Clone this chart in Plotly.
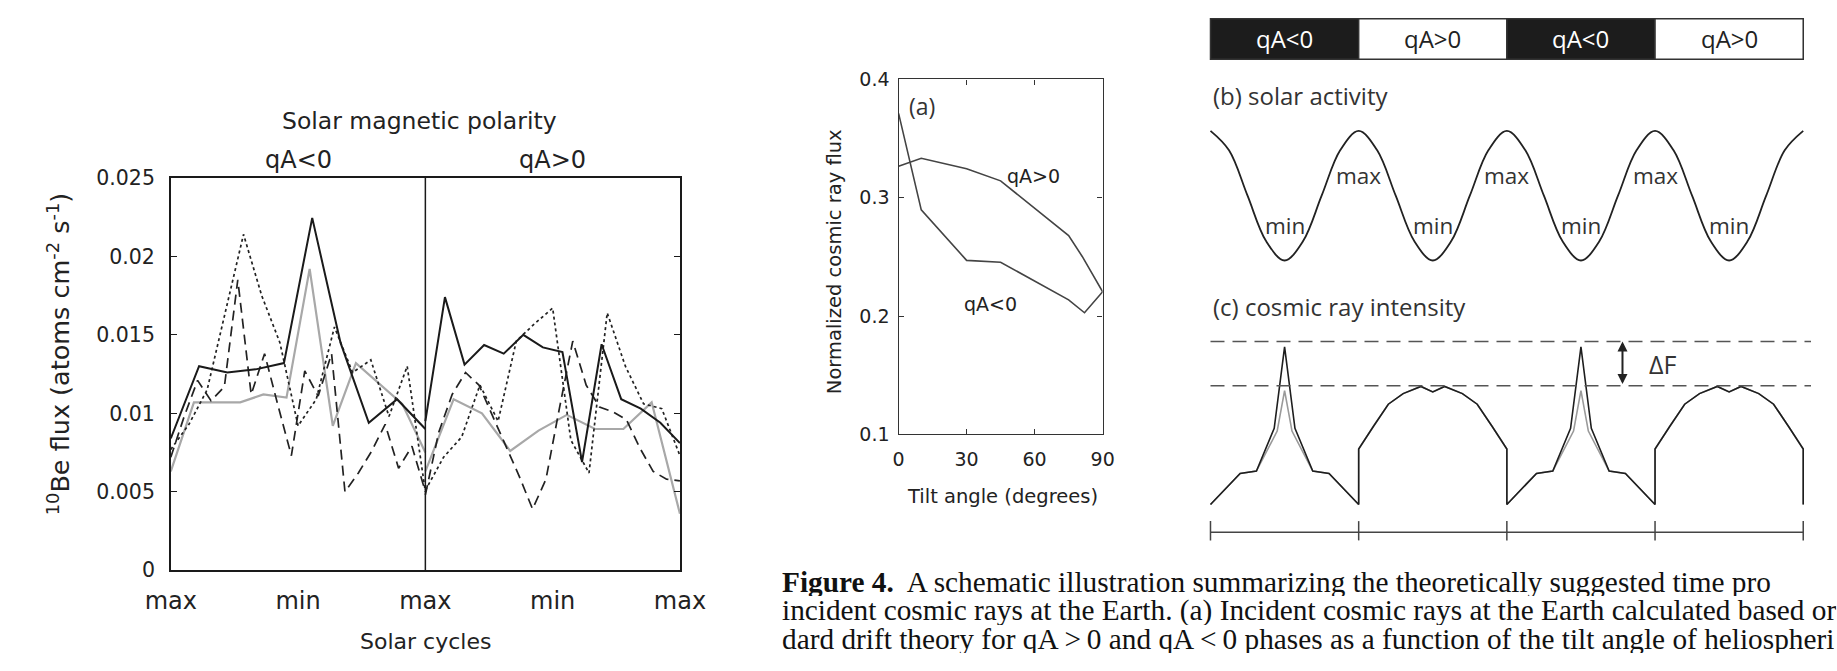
import plotly.graph_objects as go

W, H = 1837, 671
SANS = "DejaVu Sans"
HUMAN = "Open Sans"
SERIF = "Liberation Serif"

# ---------------- data: left panel (10Be flux vs solar cycle) ----------------
cycle_ticks = [0, 1, 2, 3, 4]
cycle_labels = ["max", "min", "max", "min", "max"]
flux_ticks = [0, 0.005, 0.01, 0.015, 0.02, 0.025]
flux_tick_text = ["0", "0.005", "0.01", "0.015", "0.02", "0.025"]
polarity_halves = ["qA<0", "qA>0"]

black_qaneg = [0.0084, 0.0130, 0.0126, 0.0128, 0.0132, 0.02245, 0.0145, 0.0094, 0.0109, 0.0090]
black_qapos = [0.0095, 0.0174, 0.0131, 0.01435, 0.0138, 0.0150, 0.0142, 0.0139, 0.0069, 0.0144,
               0.0109, 0.0103, 0.0094, 0.0081]
gray_qaneg = [0.0063, 0.0107, 0.0107, 0.0107, 0.0112, 0.0110, 0.0192, 0.0092, 0.0132, 0.0119, 0.0106, 0.0075]
gray_qapos = [0.0063, 0.0109, 0.0100, 0.0076, 0.0089, 0.0099, 0.0090, 0.0090, 0.0107, 0.0036]
dotted_qaneg = [0.0077, 0.0093, 0.0115, 0.0165, 0.0214, 0.0175, 0.0145, 0.0092, 0.0109, 0.0155,
                0.0126, 0.0134, 0.0098, 0.0130, 0.0050]
dotted_qapos = [0.0051, 0.0072, 0.0085, 0.0118, 0.0095, 0.0146, 0.0157, 0.0167, 0.0083, 0.0062,
                0.0164, 0.0130, 0.0106, 0.0103, 0.0073]
dashed_qaneg = [0.0072, 0.0098, 0.0121, 0.0108, 0.0117, 0.0185, 0.0112, 0.0138, 0.0105, 0.0073,
                0.0127, 0.0111, 0.0138, 0.0050, 0.0062, 0.0076, 0.0093, 0.0065, 0.0079, 0.0050]
dashed_qapos = [0.0048, 0.0088, 0.0112, 0.0126, 0.0118, 0.0099, 0.0079, 0.0060, 0.0039, 0.0058,
                0.0103, 0.0146, 0.0118, 0.0104, 0.0101, 0.0096, 0.0078, 0.0063, 0.0058, 0.0057]

# ---------------- data: middle panel (a) ----------------
tilt_ticks = [0, 30, 60, 90]
crflux_ticks = [0.1, 0.2, 0.3, 0.4]
crflux_tick_text = ["0.1", "0.2", "0.3", "0.4"]
tilt_qapos = [0, 10, 30, 45, 75, 81, 90]
crflux_qapos = [0.3266, 0.3334, 0.3246, 0.3143, 0.2680, 0.2504, 0.2205]
tilt_qaneg = [0, 10, 30, 45, 75, 82, 90]
crflux_qaneg = [0.3714, 0.2898, 0.2471, 0.2455, 0.2137, 0.2028, 0.2205]

# ---------------- data: right schematic (b), (c) ----------------
polarity_cycle = ["qA<0", "qA>0", "qA<0", "qA>0"]
activity_phase = [0, 0.125, 0.25, 0.375, 0.5, 0.625, 0.75, 0.875]
activity_level = [1.0, 0.85, 0.5, 0.15, 0.0, 0.15, 0.5, 0.85]
spike_phase = [0, 0.2, 0.31, 0.43, 0.5, 0.57, 0.69, 0.8, 1.0]
spike_black = [0, 0.19, 0.205, 0.467, 0.967, 0.467, 0.205, 0.19, 0]
spike_gray_phase = [0, 0.2, 0.31, 0.45, 0.5, 0.55, 0.69, 0.8, 1.0]
spike_gray = [0, 0.19, 0.205, 0.45, 0.698, 0.45, 0.205, 0.19, 0]
dome_phase = [0, 0, 0.1, 0.2, 0.3, 0.42, 0.5, 0.58, 0.7, 0.8, 0.9, 1.0, 1.0]
dome_level = [0, 0.34, 0.48, 0.615, 0.68, 0.724, 0.69, 0.724, 0.68, 0.615, 0.48, 0.34, 0]
level_spike_top = 1.0
level_dome_top = 0.728

caption = [
    "<b>Figure 4.</b>\u00a0 A schematic illustration summarizing the theoretically suggested time pro",
    "incident cosmic rays at the Earth. (a) Incident cosmic rays at the Earth calculated based or",
    "dard drift theory for qA\u2009>\u20090 and qA\u2009<\u20090 phases as a function of the tilt angle of heliospheri",
]

# ---------------- helpers ----------------
def fx(px):
    return px / W


def fy(py):
    return 1 - py / H


def phase(vals, start):
    n = len(vals)
    return [start + 2.0 * i / (n - 1) for i in range(n)]


fig = go.Figure()

# left panel traces
styles = [
    (gray_qaneg, gray_qapos, dict(color="#a8a8a8", width=2.2)),
    (dashed_qaneg, dashed_qapos, dict(color="#222", width=1.7, dash="10px,6px")),
    (dotted_qaneg, dotted_qapos, dict(color="#222", width=1.7, dash="3px,3px")),
    (black_qaneg, black_qapos, dict(color="#1a1a1a", width=2.0)),
]
for neg, pos, ln in styles:
    fig.add_trace(go.Scatter(x=phase(neg, 0), y=neg, mode="lines", line=ln, xaxis="x", yaxis="y",
                             hoverinfo="skip"))
    fig.add_trace(go.Scatter(x=phase(pos, 2), y=pos, mode="lines", line=ln, xaxis="x", yaxis="y",
                             hoverinfo="skip"))

# middle panel traces
for tx, ty in [(tilt_qapos, crflux_qapos), (tilt_qaneg, crflux_qaneg)]:
    fig.add_trace(go.Scatter(x=tx, y=ty, mode="lines", line=dict(color="#444", width=1.6),
                             xaxis="x2", yaxis="y2", hoverinfo="skip"))

# (b) solar activity
act_u, act_v = [], []
for k in range(4):
    act_u += [k + p for p in activity_phase]
    act_v += activity_level
act_u.append(4)
act_v.append(activity_level[0])
fig.add_trace(go.Scatter(x=act_u, y=act_v, mode="lines", line=dict(color="#222", width=1.8, shape="spline",
                         smoothing=1.0), xaxis="x3", yaxis="y3", hoverinfo="skip"))

# (c) cosmic ray intensity
def cycle_series(sp_phase, sp_vals):
    u, v = [], []
    for k in (0, 2):
        u += [k + p for p in sp_phase]
        v += sp_vals
        u += [k + 1 + p for p in dome_phase]
        v += dome_level
    return u, v

gu, gv = cycle_series(spike_gray_phase, spike_gray)
fig.add_trace(go.Scatter(x=gu, y=gv, mode="lines", line=dict(color="#9a9a9a", width=1.6),
                         xaxis="x4", yaxis="y4", hoverinfo="skip"))
bu, bv = cycle_series(spike_phase, spike_black)
fig.add_trace(go.Scatter(x=bu, y=bv, mode="lines", line=dict(color="#1e1e1e", width=1.6),
                         xaxis="x4", yaxis="y4", hoverinfo="skip"))

shapes = []
# divider between polarity halves in left panel
shapes.append(dict(type="line", xref="x", yref="y", x0=2, x1=2, y0=0, y1=0.025,
                   line=dict(color="#1a1a1a", width=1.5)))
# polarity bar
for k, lab in enumerate(polarity_cycle):
    dark = lab == "qA<0"
    shapes.append(dict(type="rect", xref="x3", yref="paper", x0=k, x1=k + 1, y0=fy(49), y1=fy(7),
                       fillcolor="#1c1c1c" if dark else "white", line=dict(color="#333", width=1.5),
                       layer="below"))
# reference dashed levels in (c)
for lev in (level_spike_top, level_dome_top):
    shapes.append(dict(type="line", xref="paper", yref="y4", x0=fx(1219), x1=1.0, y0=lev, y1=lev,
                       line=dict(color="#555", width=1.5, dash="14px,8px")))
# time axis below (c)
shapes.append(dict(type="line", xref="x3", yref="paper", x0=0, x1=4, y0=fy(539.5), y1=fy(539.5),
                   line=dict(color="#444", width=1.6)))
for k in range(5):
    shapes.append(dict(type="line", xref="x3", yref="paper", x0=k, x1=k, y0=fy(548), y1=fy(528),
                       line=dict(color="#444", width=1.5)))

ann = []

def text(t, x, y, size, family, color="#222", xanchor="center", yanchor="middle", angle=0,
         xref="paper", yref="paper", height=None):
    a = dict(text=t, x=x, y=y, xref=xref, yref=yref, showarrow=False, textangle=angle,
             xanchor=xanchor, yanchor=yanchor, font=dict(family=family, size=size, color=color))
    if height is not None:
        a["height"] = height
        a["valign"] = "middle"
    ann.append(a)

# left panel texts
text("Solar magnetic polarity", fx(405), fy(113), 23.5, SANS)
text(polarity_halves[0], 1, fy(153), 24, SANS, xref="x")
text(polarity_halves[1], 3, fy(153), 24, SANS, xref="x")
text("<sup>10</sup>Be flux (atoms cm<sup>-2</sup> s<sup>-1</sup>)", fx(34), fy(355), 25.5, SANS, angle=-90)
text("Solar cycles", fx(411), fy(653), 22, SANS)

# middle panel texts
text("Normalized cosmic ray flux", fx(832), fy(259), 19.5, SANS, angle=-90)
text("Tilt angle (degrees)", fx(1005), fy(502), 19.5, SANS)
text("(a)", fx(922), fy(97), 23, HUMAN, color="#333")
text("qA>0", 45 + 14.5, fy(170), 19, SANS, xref="x2")
text("qA<0", 45 - 4.5, fy(303), 19, SANS, xref="x2")

# right schematic texts
text("(b) solar activity", fx(1220), fy(87), 24, HUMAN, color="#333", xanchor="left")
text("(c) cosmic ray intensity", fx(1220), fy(305), 24, HUMAN, color="#333", xanchor="left")
for k, lab in enumerate(polarity_cycle):
    text(lab, k + 0.5, fy(28), 24, HUMAN, color="white" if lab == "qA<0" else "#222", xref="x3")
for k in (1, 2, 3):
    text("max", k, fy(170), 22.5, HUMAN, color="#333", xref="x3")
for k in range(4):
    text("min", k + 0.5, fy(221), 22.5, HUMAN, color="#333", xref="x3")
text("\u0394F", fx(1684), fy(365), 25, HUMAN, color="#333")
ann.append(dict(x=fx(1643), y=level_spike_top, xref="paper", yref="y4", ax=0, ay=44, axref="pixel",
                ayref="pixel", text="", showarrow=True, arrowhead=2, arrowside="end+start", arrowsize=1,
                arrowwidth=2, arrowcolor="#222", standoff=0, startstandoff=0))

# caption
for i, line in enumerate(caption):
    text(line, fx(776), fy(591 + 29.5 * i), 29.3, SERIF, color="#111", xanchor="left", height=29)

axis_common = dict(showgrid=False, zeroline=False)
fig.update_layout(
    width=W, height=H, margin=dict(l=0, r=0, t=0, b=0), paper_bgcolor="white", plot_bgcolor="white",
    showlegend=False, shapes=shapes, annotations=ann,
    xaxis=dict(domain=[fx(149), fx(673)], range=[0, 4], tickvals=cycle_ticks, ticktext=cycle_labels,
               ticks="", showline=True, mirror=True, linecolor="#1a1a1a", linewidth=1.5,
               tickfont=dict(family=SANS, size=24, color="#222"), ticklabelstandoff=8, **axis_common),
    yaxis=dict(domain=[fy(579), fy(172)], range=[0, 0.025], tickvals=flux_ticks, ticktext=flux_tick_text,
               ticks="inside", ticklen=6, tickwidth=1.3, tickcolor="#1a1a1a", showline=True, mirror="ticks",
               linecolor="#1a1a1a", linewidth=1.5, tickfont=dict(family=SANS, size=20.5, color="#222"),
               ticklabelstandoff=10, **axis_common),
    xaxis2=dict(domain=[fx(898), fx(1108)], range=[0, 90], tickvals=tilt_ticks, ticks="inside", ticklen=5,
                tickwidth=1.2, tickcolor="#333", showline=True, mirror="ticks", linecolor="#333", linewidth=1.4,
                tickfont=dict(family=SANS, size=19, color="#222"), ticklabelstandoff=8, anchor="y2",
                **axis_common),
    yaxis2=dict(domain=[fy(438), fy(70)], range=[0.1, 0.4], tickvals=crflux_ticks, ticktext=crflux_tick_text,
                ticks="inside", ticklen=5, tickwidth=1.2, tickcolor="#333", showline=True, mirror="ticks",
                linecolor="#333", linewidth=1.4, tickfont=dict(family=SANS, size=19, color="#222"),
                ticklabelstandoff=4, anchor="x2", **axis_common),
    xaxis3=dict(domain=[fx(1215.95), fx(1832.05)], range=[-0.02, 4.02], visible=False, anchor="y3"),
    yaxis3=dict(domain=[fy(265.76), fy(115.24)], range=[-0.06, 1.06], visible=False, anchor="x3"),
    xaxis4=dict(domain=[fx(1215.95), fx(1832.05)], range=[-0.02, 4.02], visible=False, anchor="y4"),
    yaxis4=dict(domain=[fy(520.84), fy(331.56)], range=[-0.06, 1.06], visible=False, anchor="x4"),
)

fig.write_html("out.html")
